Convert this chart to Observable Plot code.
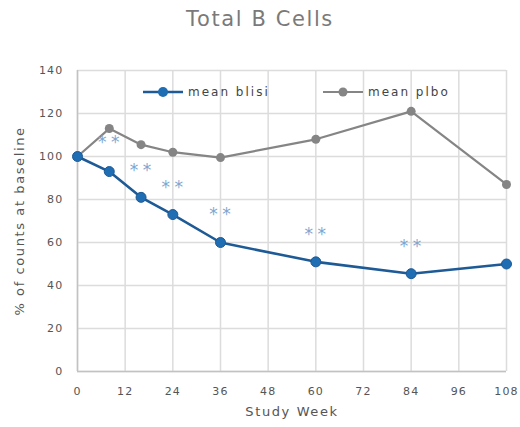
<!DOCTYPE html>
<html>
<head>
<meta charset="utf-8">
<script src="https://cdn.jsdelivr.net/npm/d3@7"></script>
<script src="https://cdn.jsdelivr.net/npm/@observablehq/plot@0.6"></script>
<style>
  html, body { margin: 0; padding: 0; background: #fff; }
  #wrap { position: relative; width: 520px; height: 427px; font-family: "DejaVu Sans", sans-serif; }
  #title { height: 40px; line-height: 38px; text-align: center; font-size: 21px; color: #7a7a7a; letter-spacing: 1.6px; }
  #legend { position: absolute; left: 0; top: 0; }
  svg text { letter-spacing: 1.2px; }
  svg g[aria-label="x-axis label"] text, svg g[aria-label="y-axis label"] text { font-size: 13px; letter-spacing: 1.6px; }
</style>
</head>
<body>
<div id="wrap">
  <div id="title">Total B Cells</div>
  <div id="chart"></div>
  <svg id="legend" width="520" height="120"></svg>
</div>
<script>
const weeks = [0, 8, 16, 24, 36, 60, 84, 108];
const blisi = [100, 93, 81, 73, 60, 51, 45.5, 50];
const plbo = [100, 113, 105.5, 102, 99.5, 108, 121, 87];
const starWeeks = [8, 16, 24, 36, 60, 84];
const starValues = [108.4, 95.5, 87.5, 75, 65.5, 60];
const xTicks = [0, 12, 24, 36, 48, 60, 72, 84, 96, 108];
const yTicks = [0, 20, 40, 60, 80, 100, 120, 140];
const seriesNames = ["mean blisi", "mean plbo"];
const blue = "#1d5a96", blueDot = "#1f6db3", gray = "#858585";

const blisiData = weeks.map((w, i) => ({week: w, value: blisi[i]}));
const plboData = weeks.map((w, i) => ({week: w, value: plbo[i]}));
const stars = starWeeks.map((w, i) => ({week: w, value: starValues[i]}));

const chart = Plot.plot({
  width: 520,
  height: 387,
  marginTop: 30,
  marginBottom: 56,
  marginLeft: 77,
  marginRight: 14,
  style: {fontFamily: "DejaVu Sans, sans-serif", fontSize: "11px", color: "#555"},
  x: {domain: [0, 108], ticks: xTicks, tickSize: 0, tickPadding: 16, label: "Study Week", labelAnchor: "center", labelOffset: 44, labelArrow: "none"},
  y: {domain: [0, 140], ticks: yTicks, tickSize: 0, tickPadding: 14, label: "% of counts at baseline", labelAnchor: "center", labelOffset: 63, labelArrow: "none"},
  marks: [
    Plot.gridX(xTicks, {stroke: "#dcdcdc", strokeOpacity: 1, strokeWidth: 1.5}),
    Plot.gridY(yTicks, {stroke: "#dcdcdc", strokeOpacity: 1, strokeWidth: 1.5}),
    Plot.ruleX([0], {stroke: "#c2c2c2", strokeWidth: 1.5}),
    Plot.ruleY([0], {stroke: "#c2c2c2", strokeWidth: 1.5}),
    Plot.line(plboData, {x: "week", y: "value", stroke: gray, strokeWidth: 2.2}),
    Plot.dot(plboData, {x: "week", y: "value", fill: gray, r: 4.5}),
    Plot.line(blisiData, {x: "week", y: "value", stroke: blue, strokeWidth: 2.6}),
    Plot.dot(blisiData, {x: "week", y: "value", fill: blueDot, stroke: blue, strokeWidth: 1, r: 5}),
    Plot.text(stars, {x: "week", y: "value", text: () => "*", fill: "#7ea6cf", fontSize: 17, dx: -6.5, dy: 4}),
    Plot.text(stars, {x: "week", y: "value", text: () => "*", fill: "#7ea6cf", fontSize: 17, dx: 6.5, dy: 4})
  ]
});
document.getElementById("chart").appendChild(chart);

// legend overlay
const lg = d3.select("#legend");
const entries = [
  {name: seriesNames[0], x0: 143, color: blue, dot: blueDot, r: 5, w: 2.6},
  {name: seriesNames[1], x0: 323, color: gray, dot: gray, r: 4.5, w: 2.2}
];
entries.forEach(e => {
  lg.append("line").attr("x1", e.x0).attr("x2", e.x0 + 40).attr("y1", 92).attr("y2", 92)
    .attr("stroke", e.color).attr("stroke-width", e.w);
  lg.append("circle").attr("cx", e.x0 + 20).attr("cy", 92).attr("r", e.r).attr("fill", e.dot);
  lg.append("text").attr("x", e.x0 + 45).attr("y", 96).text(e.name)
    .attr("font-size", 12).attr("fill", "#444").attr("font-family", "DejaVu Sans, sans-serif")
    .style("letter-spacing", "2px");
});
</script>
</body>
</html>
